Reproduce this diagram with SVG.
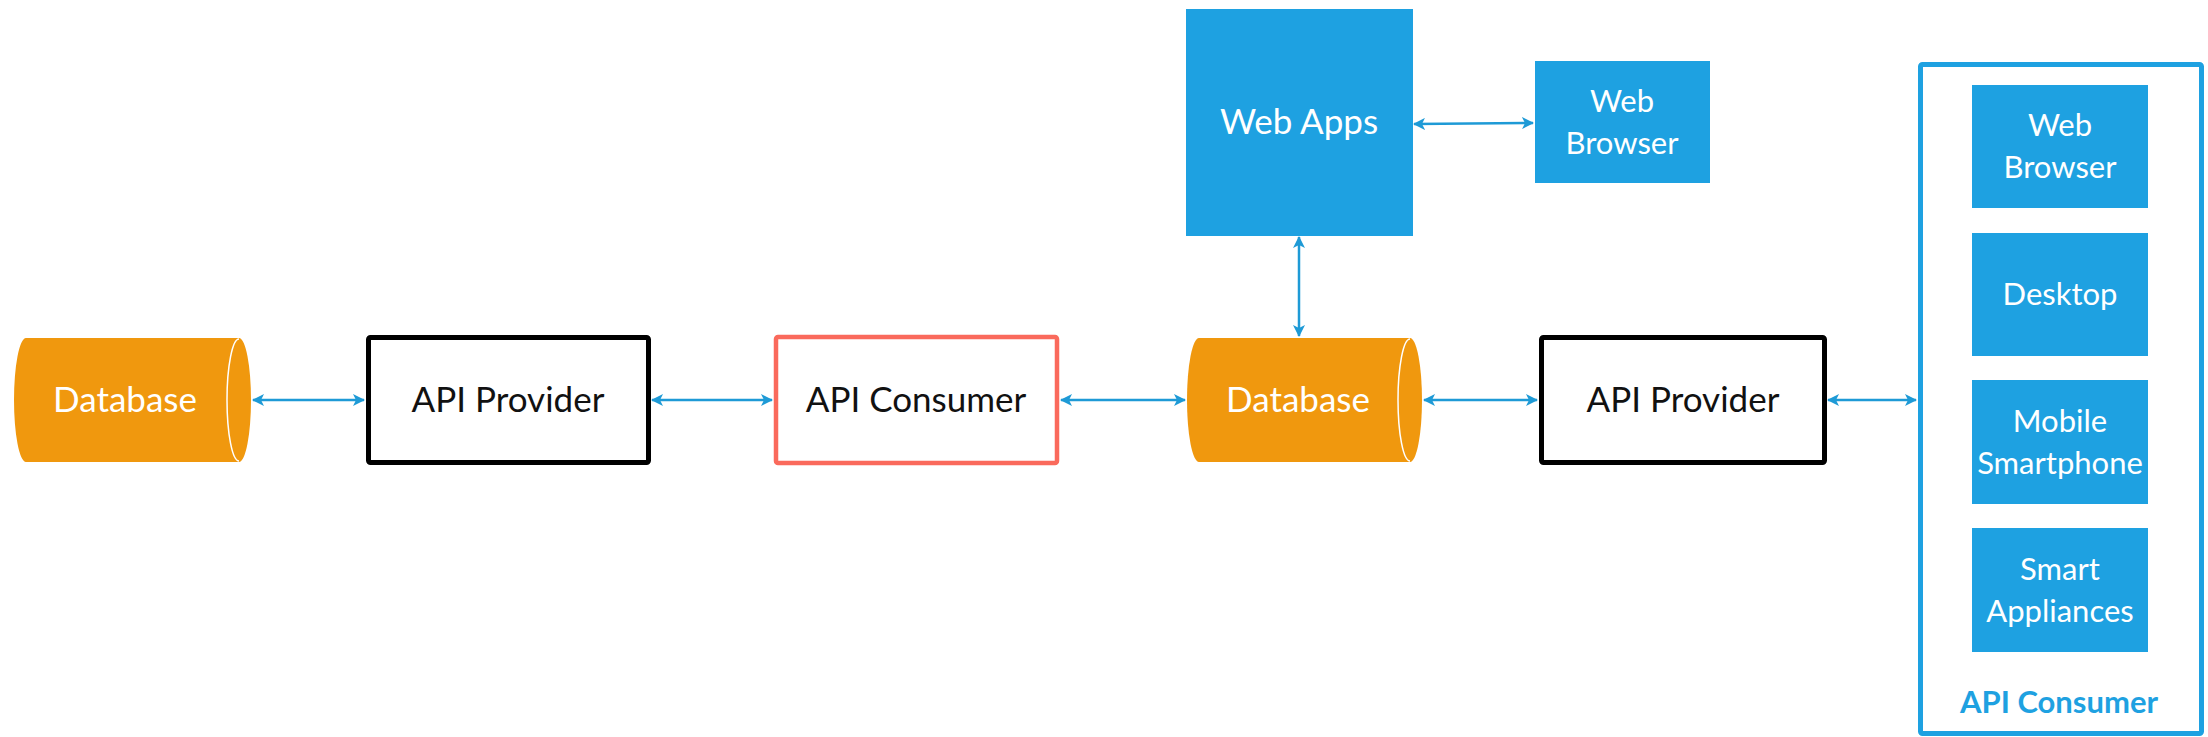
<svg xmlns="http://www.w3.org/2000/svg" width="2208" height="737" viewBox="0 0 2208 737">
  <defs>
    <style>
      .db { fill: #F0980E; }
      .cap { fill: none; stroke: #FFFFFF; stroke-width: 1.5; }
      .tile { fill: #1EA1E1; }
      .prov { fill: #FFFFFF; stroke: #000000; stroke-width: 5; }
      .cons { fill: #FFFFFF; stroke: #FA6A5C; stroke-width: 4.5; }
      .group { fill: none; stroke: #1EA1E1; stroke-width: 5; }
      .lbl { font-family: Lato, "Liberation Sans", sans-serif; text-anchor: middle; }
      .big { font-size: 35px; }
      .small { font-size: 31px; }
      .white { fill: #FFFFFF; }
      .dark { fill: #111111; }
      .title { font-family: Lato, "Liberation Sans", sans-serif; font-size: 31px; font-weight: bold; fill: #1EA1E1; text-anchor: middle; }
      .link { fill: none; stroke: #1E9AD6; stroke-width: 2.5; marker-start: url(#head); marker-end: url(#head); }
    </style>
    <marker id="head" viewBox="0 0 12 12" refX="11" refY="6" markerWidth="12" markerHeight="12" markerUnits="userSpaceOnUse" orient="auto-start-reverse">
      <path d="M0,0 L12,6 L0,12 L3,6 Z" fill="#1E9AD6"/>
    </marker>
  </defs>

  <rect width="2208" height="737" fill="#FFFFFF"/>

  <!-- connectors -->
  <g id="connectors">
    <line class="link" x1="253" y1="400" x2="364" y2="400"/>
    <line class="link" x1="652" y1="400" x2="772" y2="400"/>
    <line class="link" x1="1061" y1="400" x2="1185" y2="400"/>
    <line class="link" x1="1424" y1="400" x2="1537" y2="400"/>
    <line class="link" x1="1828" y1="400" x2="1916" y2="400"/>
    <line class="link" x1="1299" y1="237" x2="1299" y2="336"/>
    <line class="link" x1="1414" y1="124" x2="1533" y2="123"/>
  </g>

  <!-- left database -->
  <g id="db-left">
    <path class="db" d="M26,338 L239,338 A12,62 0 0 1 239,462 L26,462 A12,62 0 0 1 26,338 Z"/>
    <path class="cap" d="M239,339 A12,61 0 0 0 239,461"/>
    <text class="lbl big white" x="125" y="412">Database</text>
  </g>

  <!-- left API provider -->
  <g id="provider-left">
    <rect class="prov" x="368.5" y="337.5" width="280" height="125" rx="2"/>
    <text class="lbl big dark" x="508" y="412">API Provider</text>
  </g>

  <!-- API consumer -->
  <g id="consumer-mid">
    <rect class="cons" x="776" y="337" width="281" height="126" rx="2"/>
    <text class="lbl big dark" x="916" y="412">API Consumer</text>
  </g>

  <!-- central database -->
  <g id="db-center">
    <path class="db" d="M1199,338 L1410,338 A12,62 0 0 1 1410,462 L1199,462 A12,62 0 0 1 1199,338 Z"/>
    <path class="cap" d="M1410,339 A12,61 0 0 0 1410,461"/>
    <text class="lbl big white" x="1298" y="412">Database</text>
  </g>

  <!-- right API provider -->
  <g id="provider-right">
    <rect class="prov" x="1541.5" y="337.5" width="283" height="125" rx="2"/>
    <text class="lbl big dark" x="1683" y="412">API Provider</text>
  </g>

  <!-- web apps -->
  <g id="web-apps">
    <rect class="tile" x="1186" y="9" width="227" height="227"/>
    <text class="lbl big white" x="1299" y="134">Web Apps</text>
  </g>

  <!-- browser attached to web apps -->
  <g id="web-browser-top">
    <rect class="tile" x="1535" y="61" width="175" height="122"/>
    <text class="lbl small white" x="1622" y="112">Web</text>
    <text class="lbl small white" x="1622" y="154">Browser</text>
  </g>

  <!-- API consumer group -->
  <g id="consumer-group">
    <rect class="group" x="1920.5" y="64.5" width="281" height="669" rx="2"/>
    <text class="title" x="2059" y="713">API Consumer</text>
  </g>

  <g id="client-browser">
    <rect class="tile" x="1972" y="85" width="176" height="123"/>
    <text class="lbl small white" x="2060" y="136">Web</text>
    <text class="lbl small white" x="2060" y="178">Browser</text>
  </g>

  <g id="client-desktop">
    <rect class="tile" x="1972" y="233" width="176" height="123"/>
    <text class="lbl small white" x="2060" y="305">Desktop</text>
  </g>

  <g id="client-mobile">
    <rect class="tile" x="1972" y="380" width="176" height="124"/>
    <text class="lbl small white" x="2060" y="432">Mobile</text>
    <text class="lbl small white" x="2060" y="474">Smartphone</text>
  </g>

  <g id="client-appliances">
    <rect class="tile" x="1972" y="528" width="176" height="124"/>
    <text class="lbl small white" x="2060" y="580">Smart</text>
    <text class="lbl small white" x="2060" y="622">Appliances</text>
  </g>
</svg>
